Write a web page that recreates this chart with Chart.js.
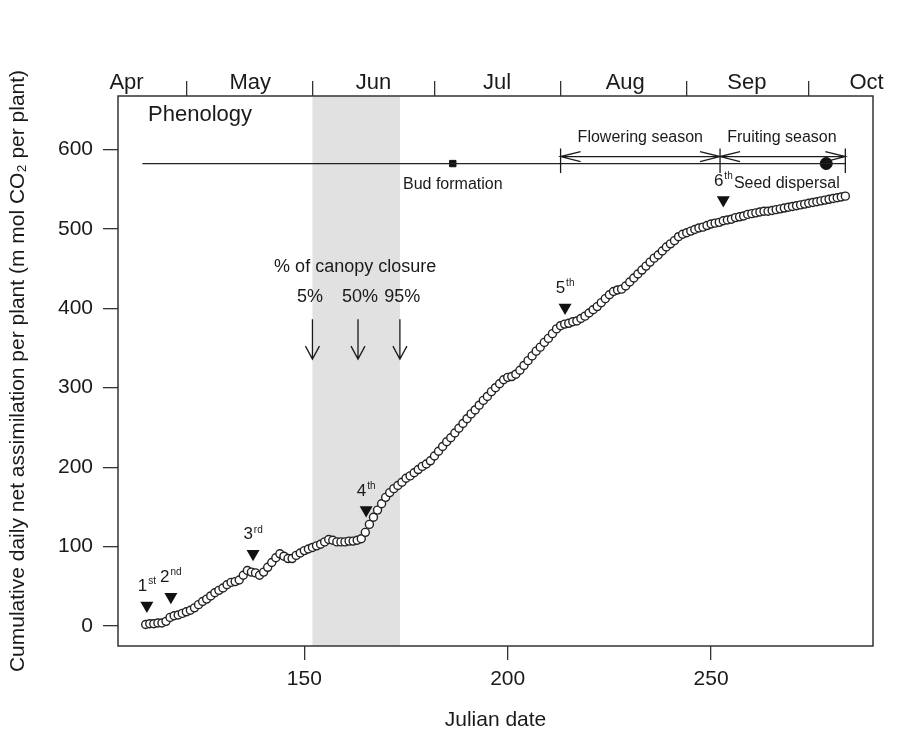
<!DOCTYPE html>
<html>
<head>
<meta charset="utf-8">
<script src="https://cdn.jsdelivr.net/npm/chart.js@4"></script>
<style>
  body { margin: 0; background: #fff; }
  canvas { display: block; }
</style>
</head>
<body>
<canvas id="chart" width="904" height="731"></canvas>
<script>
// julian day of each measurement
const days = [
  111, 112, 113, 114, 115, 116, 117, 118, 119, 120, 121, 122, 123, 124, 125, 126, 127, 128, 129, 130,
  131, 132, 133, 134, 135, 136, 137, 138, 139, 140, 141, 142, 143, 144, 145, 146, 147, 148, 149, 150,
  151, 152, 153, 154, 155, 156, 157, 158, 159, 160, 161, 162, 163, 164, 165, 166, 167, 168, 169, 170,
  171, 172, 173, 174, 175, 176, 177, 178, 179, 180, 181, 182, 183, 184, 185, 186, 187, 188, 189, 190,
  191, 192, 193, 194, 195, 196, 197, 198, 199, 200, 201, 202, 203, 204, 205, 206, 207, 208, 209, 210,
  211, 212, 213, 214, 215, 216, 217, 218, 219, 220, 221, 222, 223, 224, 225, 226, 227, 228, 229, 230,
  231, 232, 233, 234, 235, 236, 237, 238, 239, 240, 241, 242, 243, 244, 245, 246, 247, 248, 249, 250,
  251, 252, 253, 254, 255, 256, 257, 258, 259, 260, 261, 262, 263, 264, 265, 266, 267, 268, 269, 270,
  271, 272, 273, 274, 275, 276, 277, 278, 279, 280, 281, 282, 283
];
// cumulative net assimilation (m mol CO2 per plant)
const cumAssim = [
  2, 3, 3, 4, 4, 6, 11, 13, 14, 16, 18, 20, 23, 27, 31, 34, 38, 42, 45, 48,
  52, 55, 56, 58, 64, 70, 68, 67, 64, 68, 74, 80, 86, 91, 88, 85, 85, 89, 92, 95,
  97, 99, 101, 103, 106, 109, 108, 106, 106, 106, 107, 107, 108, 110, 118, 128, 137, 146, 154, 162,
  168, 173, 177, 181, 186, 189, 193, 197, 201, 204, 208, 214, 220, 226, 232, 237, 243, 249, 255, 261,
  267, 272, 278, 284, 289, 295, 300, 305, 310, 313, 314, 317, 322, 328, 334, 340, 346, 351, 357, 362,
  368, 374, 378, 380, 381, 383, 384, 387, 390, 394, 398, 402, 407, 412, 417, 421, 423, 424, 428, 433,
  438, 443, 448, 453, 458, 463, 467, 472, 477, 481, 485, 490, 493, 495, 497, 499, 501, 502, 504, 506,
  507, 508, 510, 511, 512, 514, 515, 516, 518, 519, 520, 521, 522, 522, 523, 524, 525, 526, 527, 528,
  529, 530, 531, 532, 533, 534, 535, 536, 537, 538, 539, 540, 541
];

// event markers (triangles)
const eventDays = [111.3, 117.2, 137.4, 165.2, 214.1, 253];
const eventVals = [26, 37, 91, 146, 401, 536];
const eventNums = ['1', '2', '3', '4', '5', '6'];
const eventSups = ['st', 'nd', 'rd', 'th', 'th', 'th'];

// axes
const xTicks = [150, 200, 250];
const yTicks = [0, 100, 200, 300, 400, 500, 600];
const monthNames = ['Apr', 'May', 'Jun', 'Jul', 'Aug', 'Sep', 'Oct'];
const monthLabelDays = [106.3, 136.7, 167, 197.4, 228.9, 258.8, 288.2];
const monthStartDays = [121, 152, 182, 213, 244, 274];

// canopy closure
const canopyDays = [152, 163.2, 173.5];
const canopyLabels = ['5%', '50%', '95%'];

// phenology
const phenoLevel = 582;
const phenoLine = [110.2, 283];
const budFormationDay = 186.5;
const seedDispersalDay = 278.3;
const seasonBounds = [213, 252.2, 283];
const seasonNames = ['Flowering season', 'Fruiting season'];

const FONT = '"Liberation Sans", Arial, Helvetica, sans-serif';
const INK = '#1a1a1a';

const curvePoints = days.map((d, i) => ({ x: d, y: cumAssim[i] }));
const eventPoints = eventDays.map((d, i) => ({ x: d, y: eventVals[i] }));

function font(size) { return size + 'px ' + FONT; }

const annotations = {
  id: 'annotations',
  beforeDatasetsDraw(chart) {
    const { ctx, chartArea, scales: { x } } = chart;
    ctx.save();
    ctx.fillStyle = '#e1e1e1';
    const x0 = x.getPixelForValue(canopyDays[0]);
    const x1 = x.getPixelForValue(canopyDays[2]);
    ctx.fillRect(x0, chartArea.top, x1 - x0, chartArea.bottom - chartArea.top);
    ctx.restore();
  },
  afterDatasetsDraw(chart) {
    const { ctx, scales: { x, y } } = chart;
    const px = v => x.getPixelForValue(v);
    const py = v => y.getPixelForValue(v);
    ctx.save();
    ctx.fillStyle = INK;
    ctx.strokeStyle = INK;
    ctx.lineWidth = 1.3;
    ctx.textBaseline = 'middle';

    // Phenology title
    ctx.font = font(22);
    ctx.textAlign = 'left';
    ctx.fillText('Phenology', px(111.6), py(643));

    // season bars + double arrows
    const lineY = py(phenoLevel) - 7;
    seasonBounds.forEach(d => {
      ctx.beginPath();
      ctx.moveTo(px(d), py(601));
      ctx.lineTo(px(d), py(570));
      ctx.stroke();
    });
    for (let i = 0; i < 2; i++) {
      const a = px(seasonBounds[i]);
      const b = px(seasonBounds[i + 1]);
      ctx.beginPath();
      ctx.moveTo(a, lineY);
      ctx.lineTo(b, lineY);
      ctx.moveTo(a + 20, lineY - 5); ctx.lineTo(a, lineY); ctx.lineTo(a + 20, lineY + 5);
      ctx.moveTo(b - 20, lineY - 5); ctx.lineTo(b, lineY); ctx.lineTo(b - 20, lineY + 5);
      ctx.stroke();
    }
    ctx.font = font(16);
    ctx.textAlign = 'center';
    ctx.fillText(seasonNames[0], px(232.6), py(615));
    ctx.fillText(seasonNames[1], px(267.4), py(615));
    ctx.fillText('Bud formation', px(budFormationDay), py(555));
    ctx.textAlign = 'left';
    ctx.fillText('Seed dispersal', px(255.6), py(557));

    // canopy closure
    ctx.textAlign = 'center';
    ctx.font = font(18);
    ctx.fillText('% of canopy closure', px(162.5), py(452));
    const labelDays = [151.4, 163.7, 174.1];
    canopyLabels.forEach((t, i) => ctx.fillText(t, px(labelDays[i]), py(414)));
    canopyDays.forEach(d => {
      const cx = px(d);
      const top = py(386);
      const tip = py(336);
      ctx.beginPath();
      ctx.moveTo(cx, top);
      ctx.lineTo(cx, tip);
      ctx.moveTo(cx - 7, tip - 13); ctx.lineTo(cx, tip); ctx.lineTo(cx + 7, tip - 13);
      ctx.stroke();
    });

    // event labels with superscripts
    eventDays.forEach((d, i) => {
      const cx = px(d);
      const cy = py(eventVals[i]) - 19;
      ctx.font = font(17);
      const w1 = ctx.measureText(eventNums[i]).width;
      ctx.font = font(10);
      const w2 = ctx.measureText(eventSups[i]).width;
      const left = cx - (w1 + w2 + 1) / 2;
      ctx.textAlign = 'left';
      ctx.font = font(17);
      ctx.fillText(eventNums[i], left, cy);
      ctx.font = font(10);
      ctx.fillText(eventSups[i], left + w1 + 1, cy - 5);
    });
    ctx.restore();
  },
  afterDraw(chart) {
    const { ctx, chartArea: a } = chart;
    ctx.save();
    ctx.strokeStyle = '#333';
    ctx.lineWidth = 1.5;
    ctx.strokeRect(a.left, a.top, a.right - a.left, a.bottom - a.top);
    ctx.restore();
  }
};

const xMin = 104.2, xMax = 289.8;

new Chart(document.getElementById('chart'), {
  type: 'scatter',
  data: {
    datasets: [
      {
        label: 'Cumulative assimilation',
        data: curvePoints,
        pointStyle: 'circle',
        pointRadius: 4,
        borderWidth: 1.4,
        borderColor: '#222',
        backgroundColor: '#fff',
        xAxisID: 'x', yAxisID: 'y'
      },
      {
        label: 'Events',
        data: eventPoints,
        pointStyle: 'triangle',
        rotation: 180,
        pointRadius: 7.5,
        borderWidth: 0,
        backgroundColor: '#111',
        borderColor: '#111'
      },
      {
        label: 'Phenology',
        type: 'line',
        data: phenoLine.map(d => ({ x: d, y: phenoLevel })),
        borderColor: '#222',
        borderWidth: 1.3,
        pointRadius: 0
      },
      {
        label: 'Bud formation',
        data: [{ x: budFormationDay, y: phenoLevel }],
        pointStyle: 'rect',
        pointRadius: 4.5,
        backgroundColor: '#111',
        borderColor: '#111'
      },
      {
        label: 'Seed dispersal',
        data: [{ x: seedDispersalDay, y: phenoLevel }],
        pointStyle: 'circle',
        pointRadius: 6,
        backgroundColor: '#111',
        borderColor: '#111'
      }
    ]
  },
  options: {
    responsive: false,
    animation: false,
    events: [],
    layout: { padding: { left: 0, top: 0, right: 31, bottom: 0 } },
    plugins: { legend: { display: false }, tooltip: { enabled: false } },
    scales: {
      x: {
        type: 'linear',
        position: 'bottom',
        min: xMin, max: xMax,
        afterBuildTicks: s => { s.ticks = xTicks.map(v => ({ value: v })); },
        afterFit: s => { s.height = 85; },
        border: { display: false },
        grid: { drawOnChartArea: false, tickLength: 14, color: '#333', lineWidth: 1.3 },
        ticks: { font: { family: FONT, size: 21 }, color: INK, padding: 7, maxRotation: 0, autoSkip: false },
        title: { display: true, text: 'Julian date', color: INK,
                 font: { family: FONT, size: 21, lineHeight: 1 }, padding: { top: 0, bottom: 0 } }
      },
      months: {
        type: 'linear',
        position: 'top',
        min: xMin, max: xMax,
        afterBuildTicks: s => {
          s.ticks = monthStartDays.concat(monthLabelDays).sort((a, b) => a - b).map(v => ({ value: v }));
        },
        afterFit: s => { s.height = 96; },
        border: { display: false },
        grid: {
          drawOnChartArea: false, tickLength: 15, lineWidth: 1.3,
          color: c => monthStartDays.includes(c.tick && c.tick.value) ? '#333' : 'rgba(0,0,0,0)'
        },
        ticks: {
          font: { family: FONT, size: 22 }, color: INK, padding: -15, maxRotation: 0, autoSkip: false,
          callback: v => {
            const i = monthLabelDays.indexOf(v);
            return i >= 0 ? monthNames[i] : '';
          }
        }
      },
      y: {
        type: 'linear',
        position: 'left',
        min: -25, max: 667,
        afterBuildTicks: s => { s.ticks = yTicks.map(v => ({ value: v })); },
        afterFit: s => { s.width = 118; },
        border: { display: false },
        grid: { drawOnChartArea: false, tickLength: 15, color: '#333', lineWidth: 1.3 },
        ticks: { font: { family: FONT, size: 21 }, color: INK, padding: 10 },
        title: { display: true, text: 'Cumulative daily net assimilation per plant (m mol CO\u2082 per plant)',
                 color: INK, font: { family: FONT, size: 21, lineHeight: 1 }, padding: { top: 8, bottom: 0 } }
      }
    }
  },
  plugins: [annotations]
});
</script>
</body>
</html>
